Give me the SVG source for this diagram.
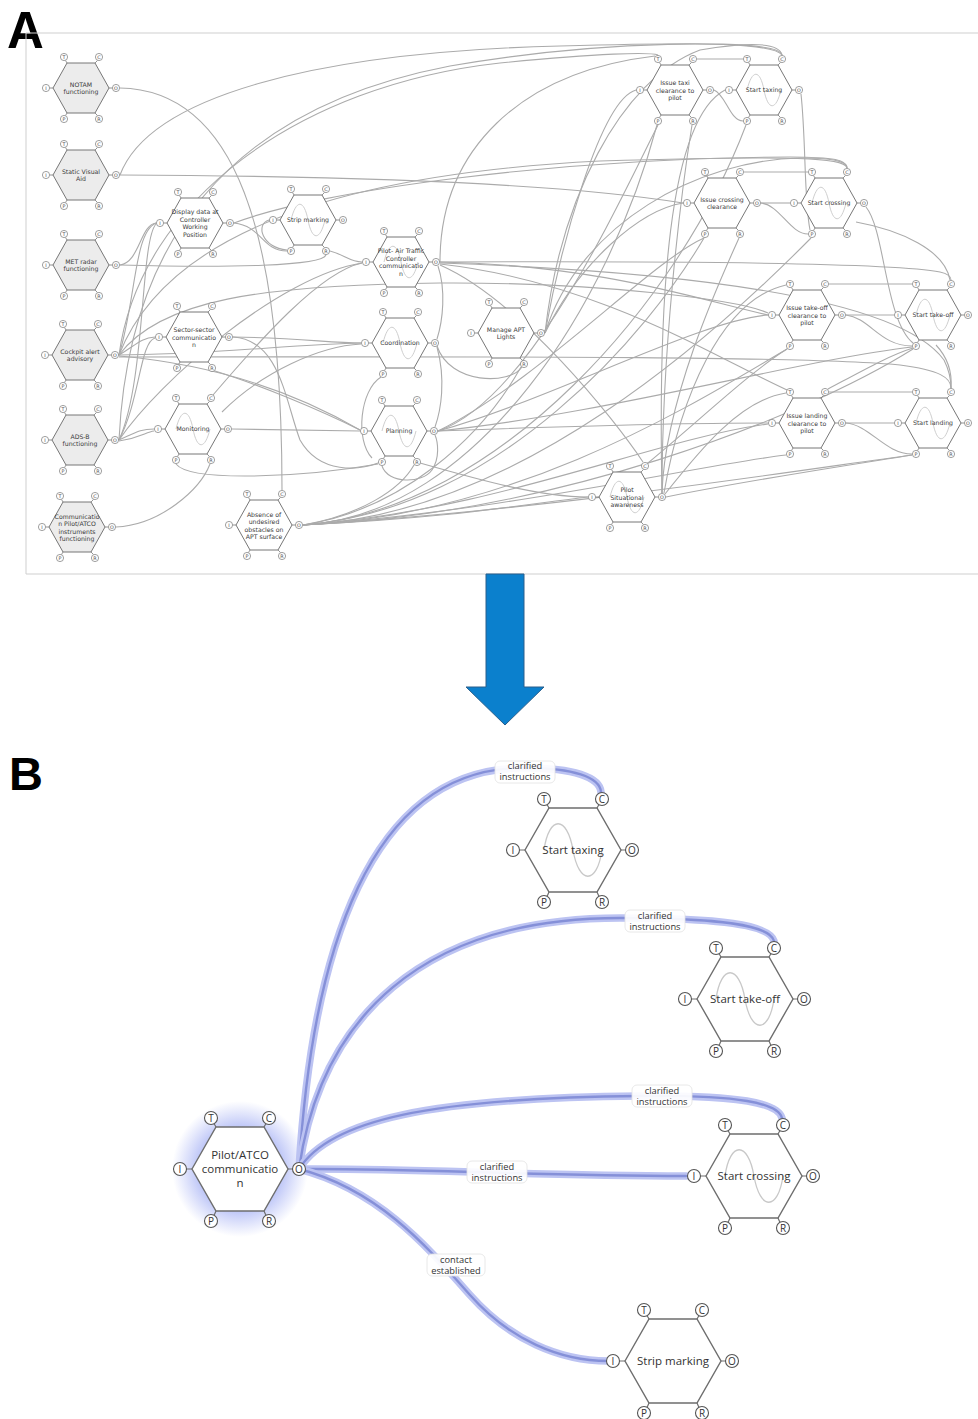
<svg xmlns="http://www.w3.org/2000/svg" xmlns:xlink="http://www.w3.org/1999/xlink" width="978" height="1419" viewBox="0 0 978 1419">
<style>
.hx{fill:#fff;stroke:#777;stroke-width:1}
.g{fill:#ececec}
.stA{fill:none;stroke:#777;stroke-width:0.8}
.pcA{fill:#fff;stroke:#777;stroke-width:0.7}
.plA{font-family:"DejaVu Sans",sans-serif;font-size:4.8px;fill:#444;text-anchor:middle}
.lA{font-family:"DejaVu Sans",sans-serif;font-size:6.2px;fill:#3a3a3a;text-anchor:middle}
.sA{fill:none;stroke:#cfcfcf;stroke-width:1}
.eA path{fill:none;stroke:#ababab;stroke-width:1.1}
.hxB{fill:#fff;stroke:#6e6e6e;stroke-width:1.4}
.stB{fill:none;stroke:#6e6e6e;stroke-width:1.2}
.pcB{fill:#fff;stroke:#555;stroke-width:1.1}
.plB{font-family:"Open Sans","DejaVu Sans",sans-serif;font-size:10px;fill:#333;text-anchor:middle}
.lB{font-family:"Open Sans","DejaVu Sans",sans-serif;font-size:11.5px;fill:#333;text-anchor:middle}
.sB{fill:none;stroke:#c8c8c8;stroke-width:1.3}
.glow{fill:none;stroke:#bcc3f2;stroke-width:7.5;stroke-linecap:round}
.core{fill:none;stroke:#8590d8;stroke-width:2.4;stroke-linecap:round}
.lbBox{fill:#fff;fill-opacity:0.92;stroke:#e2e2e2;stroke-width:0.8}
.lbT{font-family:"Open Sans","DejaVu Sans",sans-serif;font-size:9.3px;fill:#333;text-anchor:middle}
.big{font-family:"Liberation Sans",Arial,sans-serif;font-weight:bold;fill:#000}
</style>
<defs>
<g id="pA">
<path class="stA" d="M-15.5,-27.5L-14,-25M16.5,-27.5L14,-25M-31.4,0H-28M31.4,0H28M-15.5,27.5L-14,25M16.5,27.5L14,25"/>
<circle class="pcA" cx="-17" cy="-31" r="3.6"/><circle class="pcA" cx="18" cy="-31" r="3.6"/><circle class="pcA" cx="-35" cy="0" r="3.6"/><circle class="pcA" cx="35" cy="0" r="3.6"/><circle class="pcA" cx="-17" cy="31" r="3.6"/><circle class="pcA" cx="18" cy="31" r="3.6"/>
</g>
<g id="pB">
<path class="stB" d="M-26,-45.5L-24,-42M26,-45.5L24,-42M-53.5,0H-48M52.5,0H48M-26,46.5L-24,42M26,46.5L24,42"/>
<circle class="pcB" cx="-29" cy="-51" r="6.5"/><circle class="pcB" cx="29" cy="-51" r="6.5"/><circle class="pcB" cx="-60" cy="0" r="6.5"/><circle class="pcB" cx="59" cy="0" r="6.5"/><circle class="pcB" cx="-29" cy="52" r="6.5"/><circle class="pcB" cx="29" cy="52" r="6.5"/>
</g>
<radialGradient id="glowG" cx="0.5" cy="0.5" r="0.5">
<stop offset="0.5" stop-color="#8393f0" stop-opacity="0.7"/>
<stop offset="1" stop-color="#8e9cf2" stop-opacity="0"/>
</radialGradient>
</defs>
<rect width="978" height="1419" fill="#fff"/>
<text class="big" x="7" y="48" font-size="51">A</text>
<text class="big" x="9" y="790" font-size="47">B</text>
<path d="M26,33H978M26,33V574H978" fill="none" stroke="#cfcfcf" stroke-width="1"/>
<polygon id="arrow" points="486,574 524,574 524,687 544,687 505,725 466,687 486,687" fill="#0b80cd" stroke="#2a5f8c" stroke-width="1"/>

<g id="connectorsA" class="eA">
<path d="M120,88 C235,90 282,230 282,490"/>
<path d="M120,175 C150,95 320,52 560,46 C700,42 780,42 782,55"/>
<path d="M120,175 C350,176 560,183 683,203"/>
<path d="M120,265 C140,262 140,225 156,223"/>
<path d="M120,265 C230,268 322,266 326,255"/>
<path d="M234,223 C262,226 262,251 287,251"/>
<path d="M234,223 C320,190 560,158 790,157 C835,157 847,160 847,168"/>
<path d="M269,220 C255,224 262,248 287,250"/>
<path d="M119,355 C136,300 134,232 156,223"/>
<path d="M119,440 C146,380 140,242 156,224"/>
<path d="M119,355 C135,346 140,338 155,337"/>
<path d="M119,440 C140,400 140,342 155,338"/>
<path d="M119,440 C135,433 140,429 154,429"/>
<path d="M119,441 C140,438 146,432 154,431"/>
<path d="M119,355 C200,355 300,344 361,343"/>
<path d="M119,355 C140,200 300,85 500,63 C600,53 650,52 658,55"/>
<path d="M119,440 C128,250 220,110 450,66 C600,40 770,38 782,55"/>
<path d="M119,356 C220,365 300,395 360,430"/>
<path d="M119,357 C400,357 800,355 900,365 C940,370 951,378 951,388"/>
<path d="M437,346 C450,385 510,385 522,367"/>
<path d="M437,347 C446,380 441,410 435,427"/>
<path d="M381,377 C360,390 355,440 372,458"/>
<path d="M382,466 C388,484 422,484 432,470 C440,458 438,442 435,435"/>
<path d="M440,262 C600,265 700,300 768,315"/>
<path d="M440,262 C700,261 900,264 940,272 C949,274 951,277 951,280"/>
<path d="M440,263 C700,272 900,300 944,360 C949,370 951,378 951,388"/>
<path d="M440,264 C600,282 720,360 787,390"/>
<path d="M440,265 C520,300 615,420 643,462"/>
<path d="M438,266 C446,290 443,320 437,339"/>
<path d="M330,251 C345,255 350,262 362,262"/>
<path d="M213,395 C260,340 320,272 362,263"/>
<path d="M440,262 C440,150 520,72 655,56"/>
<path d="M545,333 C560,250 600,100 636,90"/>
<path d="M545,333 C580,262 640,210 683,203"/>
<path d="M545,333 C560,200 620,80 700,50 C760,40 780,45 782,55"/>
<path d="M545,333 C580,222 700,160 800,158 C840,158 847,163 847,168"/>
<path d="M438,431 C530,400 620,200 658,125"/>
<path d="M438,431 C550,400 700,320 768,315"/>
<path d="M438,431 C600,425 700,423 768,423"/>
<path d="M438,431 C600,415 800,360 912,347"/>
<path d="M438,431 C540,380 650,262 704,238"/>
<path d="M303,525 C480,515 610,300 657,125"/>
<path d="M303,525 C500,510 680,300 746,125"/>
<path d="M303,525 C500,510 650,330 704,238"/>
<path d="M303,525 C520,515 720,330 811,238"/>
<path d="M303,525 C520,515 700,400 787,349"/>
<path d="M303,525 C550,515 800,420 913,349"/>
<path d="M303,525 C500,510 650,440 768,424"/>
<path d="M303,525 C500,512 700,465 786,455"/>
<path d="M303,525 C550,510 800,470 912,455"/>
<path d="M303,525 C450,518 520,505 588,497"/>
<path d="M303,525 C400,510 480,440 521,367"/>
<path d="M303,525 C360,515 400,490 414,465"/>
<path d="M662,493 C662,350 680,200 692,125"/>
<path d="M662,493 C658,300 668,120 725,90"/>
<path d="M662,493 C665,400 720,280 739,238"/>
<path d="M664,493 C680,400 720,300 786,285"/>
<path d="M666,497 C750,480 850,465 912,455"/>
<path d="M665,494 C700,450 740,400 786,393"/>
<path d="M648,463 C700,420 750,372 787,349"/>
<path d="M714,90 C726,95 730,121 743,121"/>
<path d="M697,59 L743,59"/>
<path d="M801,94 C806,140 804,200 810,230"/>
<path d="M761,203 C780,205 790,234 808,234"/>
<path d="M761,203 L790,203"/>
<path d="M744,172 L808,172"/>
<path d="M846,315 C870,318 880,346 912,346"/>
<path d="M846,315 L894,315"/>
<path d="M829,284 L912,284"/>
<path d="M846,423 L894,423"/>
<path d="M846,423 C870,425 885,454 912,454"/>
<path d="M828,389 C860,372 890,355 913,348"/>
<path d="M829,392 L912,392"/>
<path d="M856,222 C900,230 945,250 950,280"/>
<path d="M866,207 C885,230 885,320 913,343"/>
<path d="M936,345 C950,360 952,375 951,388"/>
<path d="M233,337 C300,338 330,343 361,343"/>
<path d="M233,337 C280,340 285,400 300,440 C320,475 360,470 378,463"/>
<path d="M215,371 C260,385 320,410 360,430"/>
<path d="M420,463 C480,480 540,497 588,497"/>
<path d="M232,429 L360,431"/>
<path d="M176,464 C190,482 300,478 378,464"/>
<path d="M116,527 C160,525 200,490 210,464"/>
<path d="M119,440 C160,380 280,276 362,263"/>
<path d="M119,355 C160,300 260,285 440,283 C600,282 740,300 768,313"/>
<path d="M119,355 C160,250 300,176 600,161 C800,155 845,158 847,168"/>
<path d="M222,412 C262,372 320,346 361,344"/>
</g>

<g id="a-notam" transform="translate(81,88)"><polygon class="hx g" points="-28,0 -14,-25 14,-25 28,0 14,25 -14,25"/><use href="#pA"/><text class="plA" x="-17" y="-29.3">T</text><text class="plA" x="18" y="-29.3">C</text><text class="plA" x="-35" y="1.7">I</text><text class="plA" x="35" y="1.7">O</text><text class="plA" x="-17" y="32.7">P</text><text class="plA" x="18" y="32.7">R</text><text class="lA"><tspan x="0" y="-1.5">NOTAM</tspan><tspan x="0" y="6">functioning</tspan></text></g>
<g id="a-sva" transform="translate(81,175)"><polygon class="hx g" points="-28,0 -14,-25 14,-25 28,0 14,25 -14,25"/><use href="#pA"/><text class="plA" x="-17" y="-29.3">T</text><text class="plA" x="18" y="-29.3">C</text><text class="plA" x="-35" y="1.7">I</text><text class="plA" x="35" y="1.7">O</text><text class="plA" x="-17" y="32.7">P</text><text class="plA" x="18" y="32.7">R</text><text class="lA"><tspan x="0" y="-1.5">Static Visual</tspan><tspan x="0" y="6">Aid</tspan></text></g>
<g id="a-met" transform="translate(81,265)"><polygon class="hx g" points="-28,0 -14,-25 14,-25 28,0 14,25 -14,25"/><use href="#pA"/><text class="plA" x="-17" y="-29.3">T</text><text class="plA" x="18" y="-29.3">C</text><text class="plA" x="-35" y="1.7">I</text><text class="plA" x="35" y="1.7">O</text><text class="plA" x="-17" y="32.7">P</text><text class="plA" x="18" y="32.7">R</text><text class="lA"><tspan x="0" y="-1.5">MET radar</tspan><tspan x="0" y="6">functioning</tspan></text></g>
<g id="a-cockpit" transform="translate(80,355)"><polygon class="hx g" points="-28,0 -14,-25 14,-25 28,0 14,25 -14,25"/><use href="#pA"/><text class="plA" x="-17" y="-29.3">T</text><text class="plA" x="18" y="-29.3">C</text><text class="plA" x="-35" y="1.7">I</text><text class="plA" x="35" y="1.7">O</text><text class="plA" x="-17" y="32.7">P</text><text class="plA" x="18" y="32.7">R</text><text class="lA"><tspan x="0" y="-1.5">Cockpit alert</tspan><tspan x="0" y="6">advisory</tspan></text></g>
<g id="a-adsb" transform="translate(80,440)"><polygon class="hx g" points="-28,0 -14,-25 14,-25 28,0 14,25 -14,25"/><use href="#pA"/><text class="plA" x="-17" y="-29.3">T</text><text class="plA" x="18" y="-29.3">C</text><text class="plA" x="-35" y="1.7">I</text><text class="plA" x="35" y="1.7">O</text><text class="plA" x="-17" y="32.7">P</text><text class="plA" x="18" y="32.7">R</text><text class="lA"><tspan x="0" y="-1.5">ADS-B</tspan><tspan x="0" y="6">functioning</tspan></text></g>
<g id="a-comm" transform="translate(77,527)"><polygon class="hx g" points="-28,0 -14,-25 14,-25 28,0 14,25 -14,25"/><use href="#pA"/><text class="plA" x="-17" y="-29.3">T</text><text class="plA" x="18" y="-29.3">C</text><text class="plA" x="-35" y="1.7">I</text><text class="plA" x="35" y="1.7">O</text><text class="plA" x="-17" y="32.7">P</text><text class="plA" x="18" y="32.7">R</text><text class="lA"><tspan x="0" y="-8.5">Communicatio</tspan><tspan x="0" y="-1">n Pilot/ATCO</tspan><tspan x="0" y="6.5">instruments</tspan><tspan x="0" y="14">functioning</tspan></text></g>
<g id="a-display" transform="translate(195,223)"><polygon class="hx" points="-28,0 -14,-25 14,-25 28,0 14,25 -14,25"/><use href="#pA"/><text class="plA" x="-17" y="-29.3">T</text><text class="plA" x="18" y="-29.3">C</text><text class="plA" x="-35" y="1.7">I</text><text class="plA" x="35" y="1.7">O</text><text class="plA" x="-17" y="32.7">P</text><text class="plA" x="18" y="32.7">R</text><text class="lA"><tspan x="0" y="-9">Display data at</tspan><tspan x="0" y="-1.5">Controller</tspan><tspan x="0" y="6">Working</tspan><tspan x="0" y="13.5">Position</tspan></text></g>
<g id="a-strip" transform="translate(308,220)"><polygon class="hx" points="-28,0 -14,-25 14,-25 28,0 14,25 -14,25"/><path class="sA" d="M-17,0 C-12,-21 -4,-21 0,0 S12,21 17,0"/><use href="#pA"/><text class="plA" x="-17" y="-29.3">T</text><text class="plA" x="18" y="-29.3">C</text><text class="plA" x="-35" y="1.7">I</text><text class="plA" x="35" y="1.7">O</text><text class="plA" x="-17" y="32.7">P</text><text class="plA" x="18" y="32.7">R</text><text class="lA" x="0" y="2">Strip marking</text></g>
<g id="a-sector" transform="translate(194,337)"><polygon class="hx" points="-28,0 -14,-25 14,-25 28,0 14,25 -14,25"/><use href="#pA"/><text class="plA" x="-17" y="-29.3">T</text><text class="plA" x="18" y="-29.3">C</text><text class="plA" x="-35" y="1.7">I</text><text class="plA" x="35" y="1.7">O</text><text class="plA" x="-17" y="32.7">P</text><text class="plA" x="18" y="32.7">R</text><text class="lA"><tspan x="0" y="-5">Sector-sector</tspan><tspan x="0" y="2.5">communicatio</tspan><tspan x="0" y="10">n</tspan></text></g>
<g id="a-monitoring" transform="translate(193,429)"><polygon class="hx" points="-28,0 -14,-25 14,-25 28,0 14,25 -14,25"/><path class="sA" d="M-17,0 C-12,-21 -4,-21 0,0 S12,21 17,0"/><use href="#pA"/><text class="plA" x="-17" y="-29.3">T</text><text class="plA" x="18" y="-29.3">C</text><text class="plA" x="-35" y="1.7">I</text><text class="plA" x="35" y="1.7">O</text><text class="plA" x="-17" y="32.7">P</text><text class="plA" x="18" y="32.7">R</text><text class="lA" x="0" y="2">Monitoring</text></g>
<g id="a-absence" transform="translate(264,525)"><polygon class="hx" points="-28,0 -14,-25 14,-25 28,0 14,25 -14,25"/><use href="#pA"/><text class="plA" x="-17" y="-29.3">T</text><text class="plA" x="18" y="-29.3">C</text><text class="plA" x="-35" y="1.7">I</text><text class="plA" x="35" y="1.7">O</text><text class="plA" x="-17" y="32.7">P</text><text class="plA" x="18" y="32.7">R</text><text class="lA"><tspan x="0" y="-8.5">Absence of</tspan><tspan x="0" y="-1">undesired</tspan><tspan x="0" y="6.5">obstacles on</tspan><tspan x="0" y="14">APT surface</tspan></text></g>
<g id="a-pilotatc" transform="translate(401,262)"><polygon class="hx" points="-28,0 -14,-25 14,-25 28,0 14,25 -14,25"/><path class="sA" d="M-17,0 C-12,-21 -4,-21 0,0 S12,21 17,0"/><use href="#pA"/><text class="plA" x="-17" y="-29.3">T</text><text class="plA" x="18" y="-29.3">C</text><text class="plA" x="-35" y="1.7">I</text><text class="plA" x="35" y="1.7">O</text><text class="plA" x="-17" y="32.7">P</text><text class="plA" x="18" y="32.7">R</text><text class="lA"><tspan x="0" y="-9">Pilot- Air Traffic</tspan><tspan x="0" y="-1.5">Controller</tspan><tspan x="0" y="6">communicatio</tspan><tspan x="0" y="13.5">n</tspan></text></g>
<g id="a-coordination" transform="translate(400,343)"><polygon class="hx" points="-28,0 -14,-25 14,-25 28,0 14,25 -14,25"/><path class="sA" d="M-17,0 C-12,-21 -4,-21 0,0 S12,21 17,0"/><use href="#pA"/><text class="plA" x="-17" y="-29.3">T</text><text class="plA" x="18" y="-29.3">C</text><text class="plA" x="-35" y="1.7">I</text><text class="plA" x="35" y="1.7">O</text><text class="plA" x="-17" y="32.7">P</text><text class="plA" x="18" y="32.7">R</text><text class="lA" x="0" y="2">Coordination</text></g>
<g id="a-planning" transform="translate(399,431)"><polygon class="hx" points="-28,0 -14,-25 14,-25 28,0 14,25 -14,25"/><path class="sA" d="M-17,0 C-12,-21 -4,-21 0,0 S12,21 17,0"/><use href="#pA"/><text class="plA" x="-17" y="-29.3">T</text><text class="plA" x="18" y="-29.3">C</text><text class="plA" x="-35" y="1.7">I</text><text class="plA" x="35" y="1.7">O</text><text class="plA" x="-17" y="32.7">P</text><text class="plA" x="18" y="32.7">R</text><text class="lA" x="0" y="2">Planning</text></g>
<g id="a-manage" transform="translate(506,333)"><polygon class="hx" points="-28,0 -14,-25 14,-25 28,0 14,25 -14,25"/><use href="#pA"/><text class="plA" x="-17" y="-29.3">T</text><text class="plA" x="18" y="-29.3">C</text><text class="plA" x="-35" y="1.7">I</text><text class="plA" x="35" y="1.7">O</text><text class="plA" x="-17" y="32.7">P</text><text class="plA" x="18" y="32.7">R</text><text class="lA"><tspan x="0" y="-1.5">Manage APT</tspan><tspan x="0" y="6">Lights</tspan></text></g>
<g id="a-pilotsa" transform="translate(627,497)"><polygon class="hx" points="-28,0 -14,-25 14,-25 28,0 14,25 -14,25"/><path class="sA" d="M-17,0 C-12,-21 -4,-21 0,0 S12,21 17,0"/><use href="#pA"/><text class="plA" x="-17" y="-29.3">T</text><text class="plA" x="18" y="-29.3">C</text><text class="plA" x="-35" y="1.7">I</text><text class="plA" x="35" y="1.7">O</text><text class="plA" x="-17" y="32.7">P</text><text class="plA" x="18" y="32.7">R</text><text class="lA"><tspan x="0" y="-5">Pilot</tspan><tspan x="0" y="2.5">Situational</tspan><tspan x="0" y="10">awareness</tspan></text></g>
<g id="a-issuetaxi" transform="translate(675,90)"><polygon class="hx" points="-28,0 -14,-25 14,-25 28,0 14,25 -14,25"/><use href="#pA"/><text class="plA" x="-17" y="-29.3">T</text><text class="plA" x="18" y="-29.3">C</text><text class="plA" x="-35" y="1.7">I</text><text class="plA" x="35" y="1.7">O</text><text class="plA" x="-17" y="32.7">P</text><text class="plA" x="18" y="32.7">R</text><text class="lA"><tspan x="0" y="-5">Issue taxi</tspan><tspan x="0" y="2.5">clearance to</tspan><tspan x="0" y="10">pilot</tspan></text></g>
<g id="a-starttaxi" transform="translate(764,90)"><polygon class="hx" points="-28,0 -14,-25 14,-25 28,0 14,25 -14,25"/><path class="sA" d="M-17,0 C-12,-21 -4,-21 0,0 S12,21 17,0"/><use href="#pA"/><text class="plA" x="-17" y="-29.3">T</text><text class="plA" x="18" y="-29.3">C</text><text class="plA" x="-35" y="1.7">I</text><text class="plA" x="35" y="1.7">O</text><text class="plA" x="-17" y="32.7">P</text><text class="plA" x="18" y="32.7">R</text><text class="lA" x="0" y="2">Start taxing</text></g>
<g id="a-issuecross" transform="translate(722,203)"><polygon class="hx" points="-28,0 -14,-25 14,-25 28,0 14,25 -14,25"/><use href="#pA"/><text class="plA" x="-17" y="-29.3">T</text><text class="plA" x="18" y="-29.3">C</text><text class="plA" x="-35" y="1.7">I</text><text class="plA" x="35" y="1.7">O</text><text class="plA" x="-17" y="32.7">P</text><text class="plA" x="18" y="32.7">R</text><text class="lA"><tspan x="0" y="-1.5">Issue crossing</tspan><tspan x="0" y="6">clearance</tspan></text></g>
<g id="a-startcross" transform="translate(829,203)"><polygon class="hx" points="-28,0 -14,-25 14,-25 28,0 14,25 -14,25"/><path class="sA" d="M-17,0 C-12,-21 -4,-21 0,0 S12,21 17,0"/><use href="#pA"/><text class="plA" x="-17" y="-29.3">T</text><text class="plA" x="18" y="-29.3">C</text><text class="plA" x="-35" y="1.7">I</text><text class="plA" x="35" y="1.7">O</text><text class="plA" x="-17" y="32.7">P</text><text class="plA" x="18" y="32.7">R</text><text class="lA" x="0" y="2">Start crossing</text></g>
<g id="a-issueto" transform="translate(807,315)"><polygon class="hx" points="-28,0 -14,-25 14,-25 28,0 14,25 -14,25"/><use href="#pA"/><text class="plA" x="-17" y="-29.3">T</text><text class="plA" x="18" y="-29.3">C</text><text class="plA" x="-35" y="1.7">I</text><text class="plA" x="35" y="1.7">O</text><text class="plA" x="-17" y="32.7">P</text><text class="plA" x="18" y="32.7">R</text><text class="lA"><tspan x="0" y="-5">Issue take-off</tspan><tspan x="0" y="2.5">clearance to</tspan><tspan x="0" y="10">pilot</tspan></text></g>
<g id="a-startto" transform="translate(933,315)"><polygon class="hx" points="-28,0 -14,-25 14,-25 28,0 14,25 -14,25"/><path class="sA" d="M-17,0 C-12,-21 -4,-21 0,0 S12,21 17,0"/><use href="#pA"/><text class="plA" x="-17" y="-29.3">T</text><text class="plA" x="18" y="-29.3">C</text><text class="plA" x="-35" y="1.7">I</text><text class="plA" x="35" y="1.7">O</text><text class="plA" x="-17" y="32.7">P</text><text class="plA" x="18" y="32.7">R</text><text class="lA" x="0" y="2">Start take-off</text></g>
<g id="a-issueland" transform="translate(807,423)"><polygon class="hx" points="-28,0 -14,-25 14,-25 28,0 14,25 -14,25"/><use href="#pA"/><text class="plA" x="-17" y="-29.3">T</text><text class="plA" x="18" y="-29.3">C</text><text class="plA" x="-35" y="1.7">I</text><text class="plA" x="35" y="1.7">O</text><text class="plA" x="-17" y="32.7">P</text><text class="plA" x="18" y="32.7">R</text><text class="lA"><tspan x="0" y="-5">Issue landing</tspan><tspan x="0" y="2.5">clearance to</tspan><tspan x="0" y="10">pilot</tspan></text></g>
<g id="a-startland" transform="translate(933,423)"><polygon class="hx" points="-28,0 -14,-25 14,-25 28,0 14,25 -14,25"/><path class="sA" d="M-17,0 C-12,-21 -4,-21 0,0 S12,21 17,0"/><use href="#pA"/><text class="plA" x="-17" y="-29.3">T</text><text class="plA" x="18" y="-29.3">C</text><text class="plA" x="-35" y="1.7">I</text><text class="plA" x="35" y="1.7">O</text><text class="plA" x="-17" y="32.7">P</text><text class="plA" x="18" y="32.7">R</text><text class="lA" x="0" y="2">Start landing</text></g>

<circle cx="240" cy="1169" r="68" fill="url(#glowG)"/>
<g id="connectorsB">
<path class="glow" d="M299,1169 C312,950 370,770 520,768 C575,767 600,778 601,792"/>
<path class="core" d="M299,1169 C312,950 370,770 520,768 C575,767 600,778 601,792"/>
<path class="glow" d="M299,1169 C320,1020 420,918 620,918 C720,918 770,925 774,941"/>
<path class="core" d="M299,1169 C320,1020 420,918 620,918 C720,918 770,925 774,941"/>
<path class="glow" d="M299,1169 C330,1120 430,1098 640,1096 C740,1095 778,1103 782,1118"/>
<path class="core" d="M299,1169 C330,1120 430,1098 640,1096 C740,1095 778,1103 782,1118"/>
<path class="glow" d="M299,1169 C420,1168 520,1176 686,1176"/>
<path class="core" d="M299,1169 C420,1168 520,1176 686,1176"/>
<path class="glow" d="M299,1169 C380,1190 430,1250 470,1295 C510,1340 560,1361 608,1361"/>
<path class="core" d="M299,1169 C380,1190 430,1250 470,1295 C510,1340 560,1361 608,1361"/>
<rect class="lbBox" x="495" y="761" width="60" height="22" rx="5"/>
<text class="lbT"><tspan x="525" y="769">clarified</tspan><tspan x="525" y="780">instructions</tspan></text>
<rect class="lbBox" x="625" y="910" width="60" height="22" rx="5"/>
<text class="lbT"><tspan x="655" y="918.5">clarified</tspan><tspan x="655" y="929.5">instructions</tspan></text>
<rect class="lbBox" x="632" y="1085" width="60" height="22" rx="5"/>
<text class="lbT"><tspan x="662" y="1094">clarified</tspan><tspan x="662" y="1105">instructions</tspan></text>
<rect class="lbBox" x="467" y="1161" width="60" height="22" rx="5"/>
<text class="lbT"><tspan x="497" y="1170">clarified</tspan><tspan x="497" y="1181">instructions</tspan></text>
<rect class="lbBox" x="427" y="1254" width="58" height="22" rx="5"/>
<text class="lbT"><tspan x="456" y="1263">contact</tspan><tspan x="456" y="1274">established</tspan></text>
</g>

<g id="b-pilot" transform="translate(240,1169)"><polygon class="hxB g" points="-48,0 -24,-42 24,-42 48,0 24,42 -24,42"/><use href="#pB"/><text class="plB" x="-29" y="-47.5">T</text><text class="plB" x="29" y="-47.5">C</text><text class="plB" x="-60" y="3.5">I</text><text class="plB" x="59" y="3.5">O</text><text class="plB" x="-29" y="55.5">P</text><text class="plB" x="29" y="55.5">R</text><text class="lB"><tspan x="0" y="-10">Pilot/ATCO</tspan><tspan x="0" y="4">communicatio</tspan><tspan x="0" y="18">n</tspan></text></g>
<g id="b-starttaxi" transform="translate(573,850)"><polygon class="hxB" points="-48,0 -24,-42 24,-42 48,0 24,42 -24,42"/><path class="sB" d="M-29,0 C-24,-35 -6,-35 0,0 S24,35 29,0"/><use href="#pB"/><text class="plB" x="-29" y="-47.5">T</text><text class="plB" x="29" y="-47.5">C</text><text class="plB" x="-60" y="3.5">I</text><text class="plB" x="59" y="3.5">O</text><text class="plB" x="-29" y="55.5">P</text><text class="plB" x="29" y="55.5">R</text><text class="lB" x="0" y="4">Start taxing</text></g>
<g id="b-starttakeoff" transform="translate(745,999)"><polygon class="hxB" points="-48,0 -24,-42 24,-42 48,0 24,42 -24,42"/><path class="sB" d="M-29,0 C-24,-35 -6,-35 0,0 S24,35 29,0"/><use href="#pB"/><text class="plB" x="-29" y="-47.5">T</text><text class="plB" x="29" y="-47.5">C</text><text class="plB" x="-60" y="3.5">I</text><text class="plB" x="59" y="3.5">O</text><text class="plB" x="-29" y="55.5">P</text><text class="plB" x="29" y="55.5">R</text><text class="lB" x="0" y="4">Start take-off</text></g>
<g id="b-startcross" transform="translate(754,1176)"><polygon class="hxB" points="-48,0 -24,-42 24,-42 48,0 24,42 -24,42"/><path class="sB" d="M-29,0 C-24,-35 -6,-35 0,0 S24,35 29,0"/><use href="#pB"/><text class="plB" x="-29" y="-47.5">T</text><text class="plB" x="29" y="-47.5">C</text><text class="plB" x="-60" y="3.5">I</text><text class="plB" x="59" y="3.5">O</text><text class="plB" x="-29" y="55.5">P</text><text class="plB" x="29" y="55.5">R</text><text class="lB" x="0" y="4">Start crossing</text></g>
<g id="b-strip" transform="translate(673,1361)"><polygon class="hxB g" points="-48,0 -24,-42 24,-42 48,0 24,42 -24,42"/><use href="#pB"/><text class="plB" x="-29" y="-47.5">T</text><text class="plB" x="29" y="-47.5">C</text><text class="plB" x="-60" y="3.5">I</text><text class="plB" x="59" y="3.5">O</text><text class="plB" x="-29" y="55.5">P</text><text class="plB" x="29" y="55.5">R</text><text class="lB" x="0" y="4">Strip marking</text></g>
</svg>
